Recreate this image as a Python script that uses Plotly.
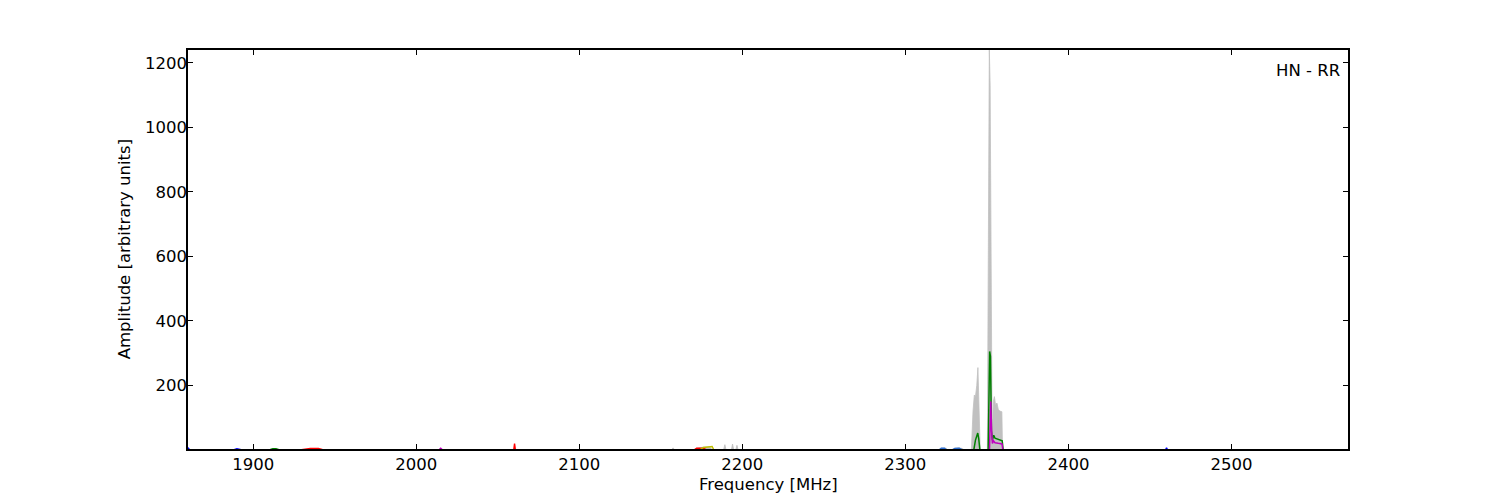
import plotly.graph_objects as go

# ---- data ----
# gray envelope (filled)
env_freq = [1860, 2156.5, 2157.5, 2158.5, 2170.5, 2172, 2176, 2180, 2181.5,
            2188.5, 2189.3, 2190, 2193.3, 2194, 2194.7, 2196, 2196.7, 2197.4,
            2320.5, 2322, 2325, 2326, 2328.5, 2330, 2333, 2335, 2336,
            2340.5, 2341.5, 2342.3, 2343.0, 2343.8, 2344.5, 2345.2, 2345.9,
            2350.3, 2351.0, 2351.5, 2352.0, 2352.6, 2353.2, 2354.0, 2354.6,
            2355.3, 2356.2, 2357.0, 2358.0, 2359.2, 2359.6, 2571.5]
env_amp = [0, 0, 6, 0, 0, 5, 8, 9, 0,
           0, 16, 0, 0, 18, 0, 0, 14, 0,
           0, 5, 5, 0, 0, 5, 6, 4, 0,
           0, 120, 170, 165, 200, 255, 150, 0,
           0, 800, 1240, 1130, 300, 60, 150, 165,
           140, 145, 125, 120, 118, 0, 0]

# green trace
green_freq = [1860, 1910, 1912, 1914, 1916, 2342.0, 2343.0, 2344.4, 2345.0, 2345.7,
              2350.8, 2351.3, 2351.7, 2352.2, 2352.8, 2353.4, 2354.2, 2355.0,
              2356.5, 2358.0, 2359.4, 2360.0, 2571.5]
green_amp = [0, 0, 3, 3, 0, 0, 30, 52, 35, 0,
             0, 200, 305, 290, 60, 30, 45, 36,
             33, 30, 28, 0, 0]

# magenta trace
mag_freq = [1860, 2014, 2015, 2016, 2351.6, 2352.0, 2352.4, 2352.9, 2353.4,
            2354.0, 2355.0, 2357.0, 2359.3, 2359.8, 2571.5]
mag_amp = [0, 0, 5, 0, 0, 90, 150, 60, 20,
           28, 22, 20, 18, 0, 0]

# red trace
red_freq = [1860, 1929, 1935, 1940, 1943, 2059.8, 2060.3, 2060.8, 2170.5, 2172, 2176, 2178, 2571.5]
red_amp = [0, 0, 4, 4, 0, 0, 19, 0, 0, 5, 5, 0, 0]

# yellow (olive) trace
yel_freq = [1860, 2174, 2176, 2179, 2181.5, 2182.5, 2571.5]
yel_amp = [0, 0, 7, 9, 10, 0, 0]

# blue traces
blue_freq = [1860, 1860.4, 1861, 1888, 1890, 1893, 2459.6, 2460.2, 2460.8, 2571.5]
blue_amp = [7, 5, 0, 0, 3, 0, 0, 6, 0, 0]

lblue_freq = [1860, 2320.8, 2322, 2324, 2325.1, 2328.8, 2330.5, 2333, 2335, 2571.5]
lblue_amp = [0, 0, 5, 5, 0, 0, 4, 5, 0, 0]

x_ticks = [1900, 2000, 2100, 2200, 2300, 2400, 2500]
y_ticks = [200, 400, 600, 800, 1000, 1200]
label_text = "HN - RR"
x_title = "Frequency [MHz]"
y_title = "Amplitude [arbitrary units]"

FONT = dict(family="DejaVu Sans", size=16.5, color="black")

# ---- figure ----
fig = go.Figure()
fig.add_trace(go.Scatter(x=env_freq, y=env_amp, mode="lines", fill="tozeroy",
                         line=dict(color="#c0c0c0", width=0.8),
                         fillcolor="#c0c0c0", showlegend=False))
fig.add_trace(go.Scatter(x=lblue_freq, y=lblue_amp, mode="lines",
                         line=dict(color="#2f6fd0", width=1.4), showlegend=False))
fig.add_trace(go.Scatter(x=blue_freq, y=blue_amp, mode="lines",
                         line=dict(color="#0000ff", width=1.4), showlegend=False))
fig.add_trace(go.Scatter(x=red_freq, y=red_amp, mode="lines",
                         line=dict(color="#ff0000", width=1.4), showlegend=False))
fig.add_trace(go.Scatter(x=yel_freq, y=yel_amp, mode="lines",
                         line=dict(color="#bfbf00", width=1.4), showlegend=False))
fig.add_trace(go.Scatter(x=green_freq, y=green_amp, mode="lines",
                         line=dict(color="#008000", width=1.5), showlegend=False))
fig.add_trace(go.Scatter(x=mag_freq, y=mag_amp, mode="lines",
                         line=dict(color="#bf00bf", width=1.5), showlegend=False))

axis_common = dict(showline=True, linecolor="black", linewidth=1.6, mirror="ticks",
                   ticks="inside", ticklen=5, tickwidth=1, tickcolor="black",
                   showgrid=False, zeroline=False, layer="above traces",
                   tickfont=FONT)

fig.update_xaxes(range=[1860, 2571.5], tickvals=x_ticks, ticklabelstandoff=-1,
                 **axis_common)
fig.update_yaxes(range=[2.5, 1240], tickvals=y_ticks, ticklabelstandoff=-4,
                 **axis_common)

fig.add_annotation(x=0.5, y=-0.09, xref="paper", yref="paper", text=x_title,
                   showarrow=False, xanchor="center", yanchor="middle", font=FONT)
fig.add_annotation(x=-0.0545, y=0.5, xref="paper", yref="paper", text=y_title,
                   textangle=-90, showarrow=False, xanchor="center", yanchor="middle",
                   font=FONT)
fig.add_annotation(x=0.995, y=0.948, xref="paper", yref="paper", text=label_text,
                   showarrow=False, xanchor="right", yanchor="middle", font=FONT)

# page body adds ~7px offset; compensate in margins
fig.update_layout(width=1500, height=500, plot_bgcolor="white", paper_bgcolor="white",
                  margin=dict(l=180, r=160, t=42, b=59, autoexpand=False),
                  font=FONT)

fig.write_html("out.html")
